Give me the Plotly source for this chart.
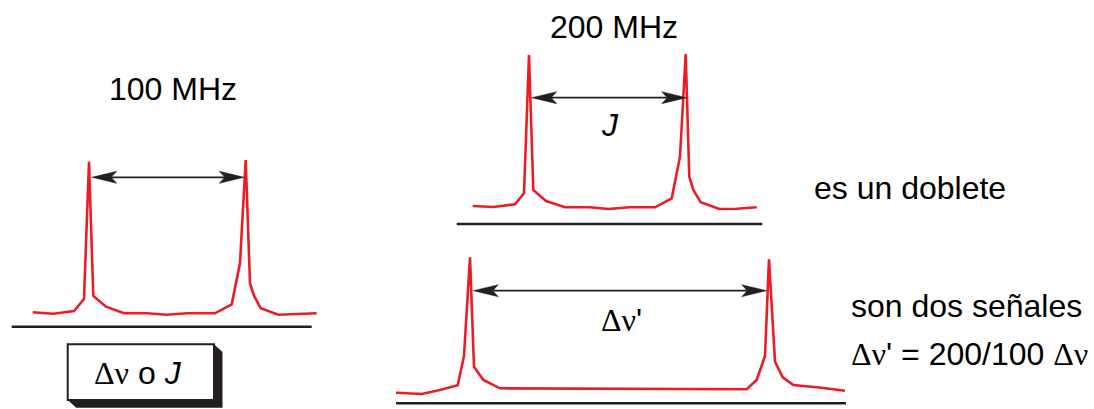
import plotly.graph_objects as go

W, H = 1094, 409

# ---- data (diagram units = pixels of the canvas) ----
spec100_x = [32.7, 53.3, 74, 84, 89, 93.3, 106, 124, 146.7, 166.7, 186.7, 215, 231.7, 240, 245.7, 250, 254, 260.7, 278.3, 300, 316.7]
spec100_y = [312.3, 313.7, 311, 299, 161.7, 296, 306.7, 313.3, 313.3, 314.7, 313.3, 313.3, 304.3, 263.3, 160, 283.3, 295.7, 308.3, 314.7, 314.3, 313.3]

spec200_x = [472.7, 493.3, 515, 524, 529, 533.3, 546, 565, 590, 608.3, 630, 655, 671.7, 680, 685.7, 689.3, 693.3, 700.7, 719.3, 736.7, 756.7]
spec200_y = [206, 207, 204.3, 193.3, 55, 190, 201, 207.3, 207.3, 209, 207.3, 207.3, 198.3, 156.7, 54, 176.7, 190, 202.3, 209, 208.7, 207.3]

specsep_x = [396, 421.7, 440, 457.7, 464, 470, 474, 483.3, 500, 746.7, 756.7, 765, 769, 775, 782.7, 793.3, 816.7, 845]
specsep_y = [392.7, 394, 390, 385.3, 356, 257.3, 366.7, 380, 388.3, 389.3, 380, 356, 259.3, 361.7, 377.3, 385, 387.3, 390.7]

baselines_x0 = [11.7, 456.7, 396]
baselines_x1 = [311.7, 762.3, 846]
baselines_y = [326.7, 224, 403.3]

arrows_x0 = [91.7, 531.7, 473.3]
arrows_x1 = [244.3, 686.7, 766.7]
arrows_y = [177.3, 97.7, 290.7]

box = [67.7, 344.3, 214, 400]   # x0, y0, x1, y1
shadow_off = [8.5, 7.7]

RED = "#ec1c24"
BLK = "#231f20"
SANS = "Liberation Sans, Arial, sans-serif"
SERIF = "Liberation Serif, Times New Roman, serif"

fig = go.Figure()

for xs, ys in [(spec100_x, spec100_y), (spec200_x, spec200_y), (specsep_x, specsep_y)]:
    fig.add_trace(go.Scatter(x=xs, y=ys, mode="lines",
                             line=dict(color=RED, width=2.6), hoverinfo="skip",
                             showlegend=False))

shapes = []
for x0, x1, y in zip(baselines_x0, baselines_x1, baselines_y):
    shapes.append(dict(type="line", x0=x0, x1=x1, y0=y, y1=y, xref="x", yref="y",
                       line=dict(color=BLK, width=2.6)))

L, HW, NOTCH = 25, 6, 0.78
for x0, x1, y in zip(arrows_x0, arrows_x1, arrows_y):
    shapes.append(dict(type="line", x0=x0 + L * 0.7, x1=x1 - L * 0.7, y0=y, y1=y,
                       xref="x", yref="y", line=dict(color=BLK, width=1.8)))
    p = (f"M{x0},{y} L{x0 + L},{y - HW} L{x0 + L * NOTCH},{y} "
         f"L{x0 + L},{y + HW} Z")
    shapes.append(dict(type="path", path=p, xref="x", yref="y",
                       fillcolor=BLK, line=dict(color=BLK, width=0.5)))
    p = (f"M{x1},{y} L{x1 - L},{y - HW} L{x1 - L * NOTCH},{y} "
         f"L{x1 - L},{y + HW} Z")
    shapes.append(dict(type="path", path=p, xref="x", yref="y",
                       fillcolor=BLK, line=dict(color=BLK, width=0.5)))

bx0, by0, bx1, by1 = box
sx, sy = shadow_off
shadow = (f"M{bx1},{by0} L{bx1 + sx},{by0 + sy} L{bx1 + sx},{by1 + sy} "
          f"L{bx0 + sx},{by1 + sy} L{bx0},{by1} Z")
shapes.append(dict(type="path", path=shadow, xref="x", yref="y",
                   fillcolor=BLK, line=dict(color=BLK, width=0)))
shapes.append(dict(type="rect", x0=bx0, x1=bx1, y0=by0, y1=by1, xref="x", yref="y",
                   fillcolor="white", line=dict(color=BLK, width=2)))

DN = f"<span style='font-family:{SERIF}'>Δν</span>"

ann = [
    dict(x=172.5, y=89, text="100 MHz", xanchor="center"),
    dict(x=613.5, y=27, text="200 MHz", xanchor="center"),
    dict(x=610, y=125, text="<i>J</i>", xanchor="center"),
    dict(x=621, y=320, text=f"{DN}'", xanchor="center"),
    dict(x=812, y=188, text="es un doblete", xanchor="left"),
    dict(x=849, y=306, text="son dos señales", xanchor="left"),
    dict(x=849, y=354, text=f"{DN}' = 200/100 {DN}", xanchor="left"),
    dict(x=(bx0 + bx1) / 2 - 3, y=373, text=f"{DN} o <i>J</i>", xanchor="center"),
]
annotations = []
for a in ann:
    annotations.append(dict(x=a["x"], y=a["y"], text=a["text"], xref="x", yref="y",
                            xanchor=a["xanchor"], yanchor="middle", showarrow=False,
                            font=dict(family=SANS, size=32, color="black")))

fig.update_layout(
    width=W, height=H, margin=dict(l=0, r=0, t=0, b=0),
    paper_bgcolor="white", plot_bgcolor="white",
    xaxis=dict(range=[0, W], visible=False, fixedrange=True),
    yaxis=dict(range=[H, 0], visible=False, fixedrange=True),
    shapes=shapes, annotations=annotations, showlegend=False,
)

fig.write_html("out.html", config={"displayModeBar": False},
               post_script="document.body.style.margin='0';document.body.style.overflow='hidden';")
